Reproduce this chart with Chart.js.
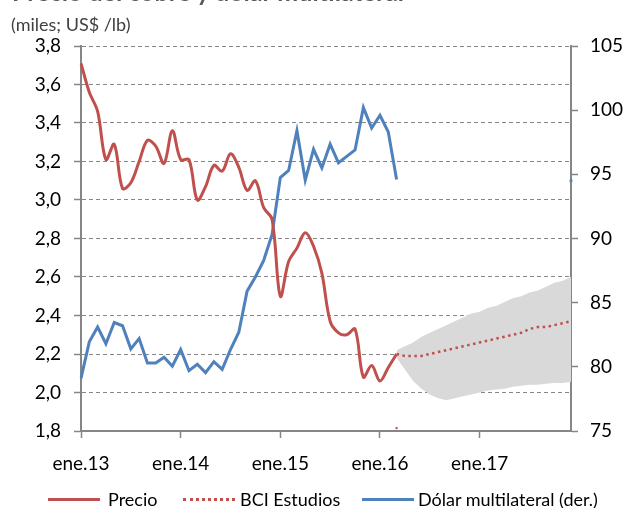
<!DOCTYPE html>
<html>
<head>
<meta charset="utf-8">
<script src="https://cdn.jsdelivr.net/npm/chart.js@4.4.1/dist/chart.umd.min.js"></script>
<style>
  html, body { margin: 0; padding: 0; background: #fff; }
  #wrap { position: relative; width: 624px; height: 508px; overflow: hidden; font-family: Lato, sans-serif; }
  #titulo { position: absolute; left: 12px; top: -24px; font: bold 25px Lato, sans-serif; color: #595959; white-space: nowrap; }
  #unidad { position: absolute; left: 11px; top: 13px; font-size: 18px; color: #404040; white-space: nowrap; }
  canvas { position: absolute; left: 0; top: 0; }
  .ley { position: absolute; top: 488px; height: 22px; line-height: 22px; font-size: 18px; color: #000; white-space: nowrap; }
  .muestra { position: absolute; top: 498px; width: 52px; height: 0; }
</style>
</head>
<body>
<div id="wrap">
  <canvas id="grafico" width="624" height="508"></canvas>
  <div id="titulo">Precio del cobre y dólar multilateral</div>
  <div id="unidad">(miles; US$ /lb)</div>
  <div id="leyenda"></div>
</div>
<script>
// meses ene.13 - dic.17
const anios = ['13', '14', '15', '16', '17'];
const nombresMes = ['ene', 'feb', 'mar', 'abr', 'may', 'jun', 'jul', 'ago', 'sep', 'oct', 'nov', 'dic'];
const meses = [];
anios.forEach(a => nombresMes.forEach(m => meses.push(m + '.' + a)));

// Precio del cobre (eje izq.), ene.13 - mar.16
const precio = [
  3.71, 3.56, 3.46, 3.21, 3.29, 3.06, 3.09, 3.20, 3.31, 3.28, 3.19, 3.36,
  3.21, 3.21, 3.00, 3.07, 3.18, 3.15, 3.24, 3.17, 3.05, 3.10, 2.96, 2.90,
  2.50, 2.68, 2.75, 2.83, 2.76, 2.62, 2.37, 2.31, 2.30, 2.33, 2.08, 2.14,
  2.06, 2.13, 2.20
];

// Dólar multilateral (eje der.), ene.13 - mar.16
const dolar = [
  79.1, 81.95, 83.1, 81.8, 83.45, 83.2, 81.4, 82.2, 80.3, 80.3, 80.75, 80.05,
  81.35, 79.7, 80.2, 79.55, 80.4, 79.8, 81.35, 82.7, 85.9, 87.0, 88.3, 90.3,
  94.75, 95.3, 98.4, 94.55, 96.95, 95.5, 97.35, 95.9, 96.4, 96.9, 100.2, 98.6,
  99.6, 98.3, 94.6
];

// Proyección BCI Estudios, mar.16 - dic.17
const bci = [
  2.20, 2.19, 2.19, 2.19, 2.20, 2.21, 2.22, 2.23, 2.24, 2.25,
  2.26, 2.27, 2.28, 2.29, 2.30, 2.31, 2.33, 2.34, 2.34, 2.35, 2.36, 2.37
];

// Banda de la proyección, mar.16 - dic.17
const bandaSup = [
  2.22, 2.24, 2.26, 2.29, 2.31, 2.33, 2.35, 2.37, 2.39, 2.41,
  2.42, 2.44, 2.45, 2.47, 2.49, 2.50, 2.52, 2.53, 2.55, 2.57, 2.58, 2.60
];
const bandaInf = [
  2.18, 2.12, 2.06, 2.02, 1.99, 1.97, 1.96, 1.97, 1.98, 1.99,
  2.00, 2.01, 2.015, 2.02, 2.03, 2.035, 2.04, 2.04, 2.045, 2.05, 2.05, 2.055
];

// puntos sueltos del original
const puntoPrecio = { mes: 'mar.16', valor: 1.815 };
const puntoDolar = { mes: 'dic.17', valor: 94.5 };

const inicioProy = meses.indexOf('mar.16');
const serie = (valores, desde) => meses.map((m, i) => (i >= desde && i - desde < valores.length) ? valores[i - desde] : null);
const punto = p => meses.map(m => m === p.mes ? p.valor : null);

const rojo = '#c0504d';
const azul = '#4f81bd';
const gris = '#868686';
const fuente = { family: 'Lato', size: 19 };

const ctx = document.getElementById('grafico').getContext('2d');
new Chart(ctx, {
  type: 'line',
  data: {
    labels: meses,
    datasets: [
      { label: 'Precio', data: serie(precio, 0), yAxisID: 'y', borderColor: rojo, backgroundColor: rojo,
        borderWidth: 3, pointRadius: 0, tension: 0.35 },
      { label: 'BCI Estudios', data: serie(bci, inicioProy), yAxisID: 'y', borderColor: rojo, backgroundColor: rojo,
        borderWidth: 2.5, borderDash: [2.5, 3.5], pointRadius: 0, tension: 0 },
      { label: 'Dólar multilateral (der.)', data: serie(dolar, 0), yAxisID: 'y1', borderColor: azul, backgroundColor: azul,
        borderWidth: 3, pointRadius: 0, tension: 0 },
      { label: 'p1', data: punto(puntoPrecio), yAxisID: 'y', showLine: false, pointStyle: 'rect',
        pointRadius: 1.5, pointBorderWidth: 0, pointBackgroundColor: rojo },
      { label: 'p2', data: punto(puntoDolar), yAxisID: 'y1', showLine: false, pointStyle: 'rect', clip: false,
        pointRadius: 2, pointBorderWidth: 0, pointBackgroundColor: azul },
      { label: 'inf', data: serie(bandaInf, inicioProy), yAxisID: 'y', borderWidth: 0, pointRadius: 0, fill: false },
      { label: 'sup', data: serie(bandaSup, inicioProy), yAxisID: 'y', borderWidth: 0, pointRadius: 0,
        fill: '-1', backgroundColor: '#d9d9d9' }
    ]
  },
  options: {
    responsive: false,
    animation: false,
    layout: { padding: { top: 46, left: 0, right: 0, bottom: 0 } },
    plugins: {
      tooltip: { enabled: false },
      legend: { display: false }
    },
    scales: {
      x: {
        grid: { drawOnChartArea: false, tickLength: 7, tickWidth: 1.5,
          tickColor: c => c.index % 12 === 0 ? gris : 'transparent' },
        border: { color: gris, width: 2 },
        ticks: { autoSkip: false, maxRotation: 0, minRotation: 0, padding: 14, color: '#000', font: fuente,
          callback: (v, i) => i % 12 === 0 ? meses[i] : '' },
        afterFit: s => { s.height = 77; }
      },
      y: {
        position: 'left', min: 1.8, max: 3.8,
        grid: { color: gris, lineWidth: 1, tickLength: 7, tickColor: gris, tickWidth: 1.5 },
        border: { color: gris, width: 2, dash: [4, 3] },
        ticks: { stepSize: 0.2, padding: 13, color: '#000', font: fuente,
          callback: v => v.toFixed(1).replace('.', ',') },
        afterFit: s => { s.width = 81; }
      },
      y1: {
        position: 'right', min: 75, max: 105,
        grid: { drawOnChartArea: false, tickLength: 7, tickColor: gris, tickWidth: 1.5 },
        border: { color: gris, width: 2 },
        ticks: { stepSize: 5, padding: 12, color: '#000', font: fuente },
        afterFit: s => { s.width = 53; }
      }
    }
  }
});

// leyenda
const items = [
  { texto: 'Precio', x: 48, borde: '3px solid ' + rojo, xt: 108 },
  { texto: 'BCI Estudios', x: 183, borde: '3px dotted ' + rojo, xt: 240 },
  { texto: 'Dólar multilateral (der.)', x: 362, borde: '3px solid ' + azul, xt: 418 }
];
const leyenda = document.getElementById('leyenda');
items.forEach(it => {
  const m = document.createElement('div');
  m.className = 'muestra';
  m.style.left = it.x + 'px';
  m.style.borderTop = it.borde;
  leyenda.appendChild(m);
  const t = document.createElement('div');
  t.className = 'ley';
  t.style.left = it.xt + 'px';
  t.textContent = it.texto;
  leyenda.appendChild(t);
});
</script>
</body>
</html>
